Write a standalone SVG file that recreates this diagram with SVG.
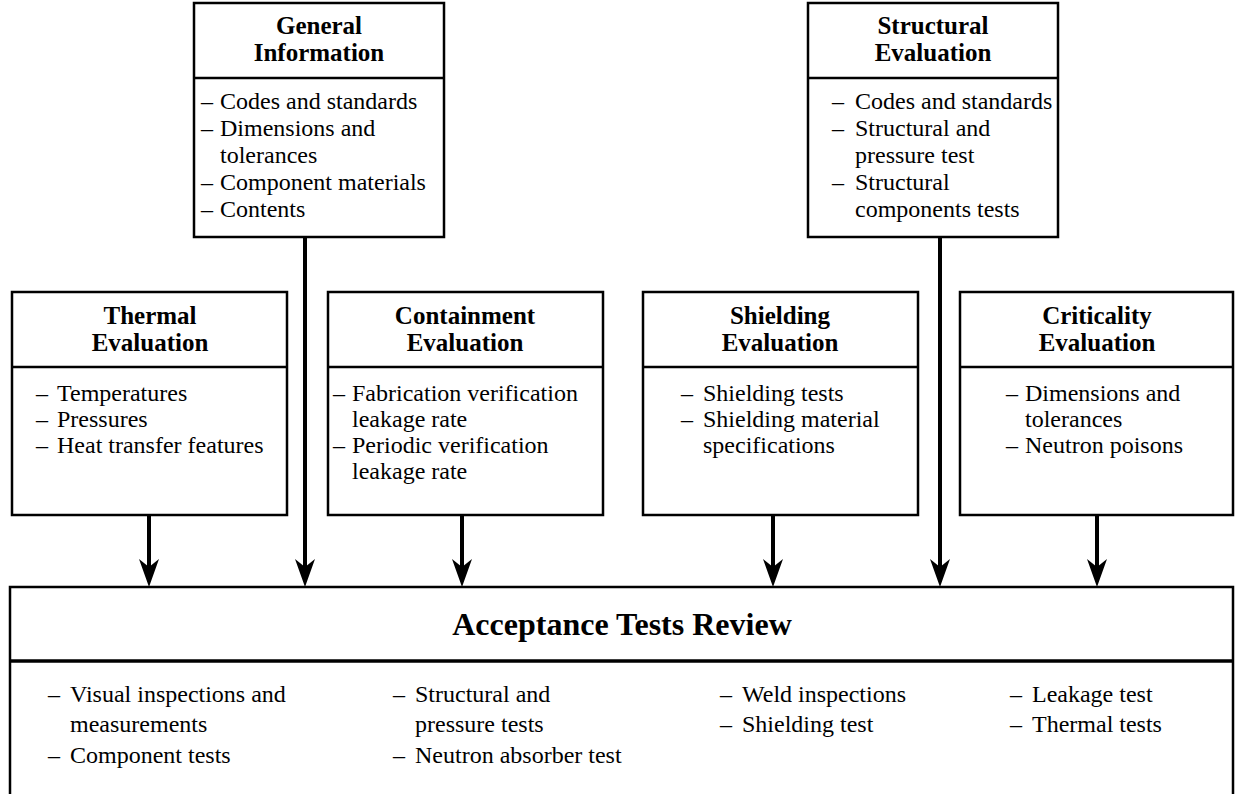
<svg xmlns="http://www.w3.org/2000/svg" width="1235" height="794" viewBox="0 0 1235 794">
  <style>
    .box { fill: #fff; stroke: #000; stroke-width: 2.5; }
    .rule { stroke: #000; stroke-width: 2.5; }
    .title { font-family: "Liberation Serif", "Times New Roman", serif; font-weight: bold; font-size: 25px; text-anchor: middle; fill: #000; }
    .big { font-family: "Liberation Serif", "Times New Roman", serif; font-weight: bold; font-size: 32px; text-anchor: middle; fill: #000; }
    .item { font-family: "Liberation Serif", "Times New Roman", serif; font-size: 24px; fill: #000; }
    .wire { stroke: #000; stroke-width: 4; fill: none; marker-end: url(#head); }
  </style>
  <defs>
    <marker id="head" markerUnits="userSpaceOnUse" viewBox="-22 -11 32 22" refX="0" refY="0" markerWidth="32" markerHeight="22" orient="auto">
      <path d="M8,0 L-20,-10 L-12,0 L-20,10 Z" fill="#000"/>
    </marker>
  </defs>
  <rect width="1235" height="794" fill="#fff"/>

  <!-- connectors: every box feeds the review box below -->
  <g id="connectors">
    <line class="wire" x1="149" y1="515" x2="149" y2="579"/>
    <line class="wire" x1="305" y1="237" x2="305" y2="579"/>
    <line class="wire" x1="462" y1="515" x2="462" y2="579"/>
    <line class="wire" x1="773" y1="515" x2="773" y2="579"/>
    <line class="wire" x1="940" y1="237" x2="940" y2="579"/>
    <line class="wire" x1="1097" y1="515" x2="1097" y2="579"/>
  </g>

  <g id="general-information">
    <rect class="box" x="194" y="3" width="250" height="234"/>
    <line class="rule" x1="194" y1="78" x2="444" y2="78"/>
    <text class="title" x="319" y="34">General</text>
    <text class="title" x="319" y="61">Information</text>
    <text class="item" y="109"><tspan x="201">–</tspan><tspan x="220">Codes and standards</tspan></text>
    <text class="item" y="136"><tspan x="201">–</tspan><tspan x="220">Dimensions and</tspan></text>
    <text class="item" x="220" y="163">tolerances</text>
    <text class="item" y="190"><tspan x="201">–</tspan><tspan x="220">Component materials</tspan></text>
    <text class="item" y="217"><tspan x="201">–</tspan><tspan x="220">Contents</tspan></text>
  </g>

  <g id="structural-evaluation">
    <rect class="box" x="808" y="3" width="250" height="234"/>
    <line class="rule" x1="808" y1="78" x2="1058" y2="78"/>
    <text class="title" x="933" y="34">Structural</text>
    <text class="title" x="933" y="61">Evaluation</text>
    <text class="item" y="109"><tspan x="832">–</tspan><tspan x="855">Codes and standards</tspan></text>
    <text class="item" y="136"><tspan x="832">–</tspan><tspan x="855">Structural and</tspan></text>
    <text class="item" x="855" y="163">pressure test</text>
    <text class="item" y="190"><tspan x="832">–</tspan><tspan x="855">Structural</tspan></text>
    <text class="item" x="855" y="217">components tests</text>
  </g>

  <g id="thermal-evaluation">
    <rect class="box" x="12" y="292" width="275" height="223"/>
    <line class="rule" x1="12" y1="367" x2="287" y2="367"/>
    <text class="title" x="150" y="324">Thermal</text>
    <text class="title" x="150" y="351">Evaluation</text>
    <text class="item" y="401"><tspan x="36">–</tspan><tspan x="57">Temperatures</tspan></text>
    <text class="item" y="427"><tspan x="36">–</tspan><tspan x="57">Pressures</tspan></text>
    <text class="item" y="453"><tspan x="36">–</tspan><tspan x="57">Heat transfer features</tspan></text>
  </g>

  <g id="containment-evaluation">
    <rect class="box" x="328" y="292" width="275" height="223"/>
    <line class="rule" x1="328" y1="367" x2="603" y2="367"/>
    <text class="title" x="465" y="324">Containment</text>
    <text class="title" x="465" y="351">Evaluation</text>
    <text class="item" y="401"><tspan x="333">–</tspan><tspan x="352">Fabrication verification</tspan></text>
    <text class="item" x="352" y="427">leakage rate</text>
    <text class="item" y="453"><tspan x="333">–</tspan><tspan x="352">Periodic verification</tspan></text>
    <text class="item" x="352" y="479">leakage rate</text>
  </g>

  <g id="shielding-evaluation">
    <rect class="box" x="643" y="292" width="275" height="223"/>
    <line class="rule" x1="643" y1="367" x2="918" y2="367"/>
    <text class="title" x="780" y="324">Shielding</text>
    <text class="title" x="780" y="351">Evaluation</text>
    <text class="item" y="401"><tspan x="681">–</tspan><tspan x="703">Shielding tests</tspan></text>
    <text class="item" y="427"><tspan x="681">–</tspan><tspan x="703">Shielding material</tspan></text>
    <text class="item" x="703" y="453">specifications</text>
  </g>

  <g id="criticality-evaluation">
    <rect class="box" x="960" y="292" width="273" height="223"/>
    <line class="rule" x1="960" y1="367" x2="1233" y2="367"/>
    <text class="title" x="1097" y="324">Criticality</text>
    <text class="title" x="1097" y="351">Evaluation</text>
    <text class="item" y="401"><tspan x="1006">–</tspan><tspan x="1025">Dimensions and</tspan></text>
    <text class="item" x="1025" y="427">tolerances</text>
    <text class="item" y="453"><tspan x="1006">–</tspan><tspan x="1025">Neutron poisons</tspan></text>
  </g>

  <g id="acceptance-tests-review">
    <rect class="box" x="10" y="587" width="1223" height="220"/>
    <line x1="10" y1="661" x2="1233" y2="661" stroke="#000" stroke-width="3.5"/>
    <text class="big" x="622" y="635">Acceptance Tests Review</text>
    <text class="item" y="702"><tspan x="48">–</tspan><tspan x="70">Visual inspections and</tspan></text>
    <text class="item" x="70" y="732">measurements</text>
    <text class="item" y="763"><tspan x="48">–</tspan><tspan x="70">Component tests</tspan></text>
    <text class="item" y="702"><tspan x="393">–</tspan><tspan x="415">Structural and</tspan></text>
    <text class="item" x="415" y="732">pressure tests</text>
    <text class="item" y="763"><tspan x="393">–</tspan><tspan x="415">Neutron absorber test</tspan></text>
    <text class="item" y="702"><tspan x="720">–</tspan><tspan x="742">Weld inspections</tspan></text>
    <text class="item" y="732"><tspan x="720">–</tspan><tspan x="742">Shielding test</tspan></text>
    <text class="item" y="702"><tspan x="1010">–</tspan><tspan x="1032">Leakage test</tspan></text>
    <text class="item" y="732"><tspan x="1010">–</tspan><tspan x="1032">Thermal tests</tspan></text>
  </g>
</svg>
